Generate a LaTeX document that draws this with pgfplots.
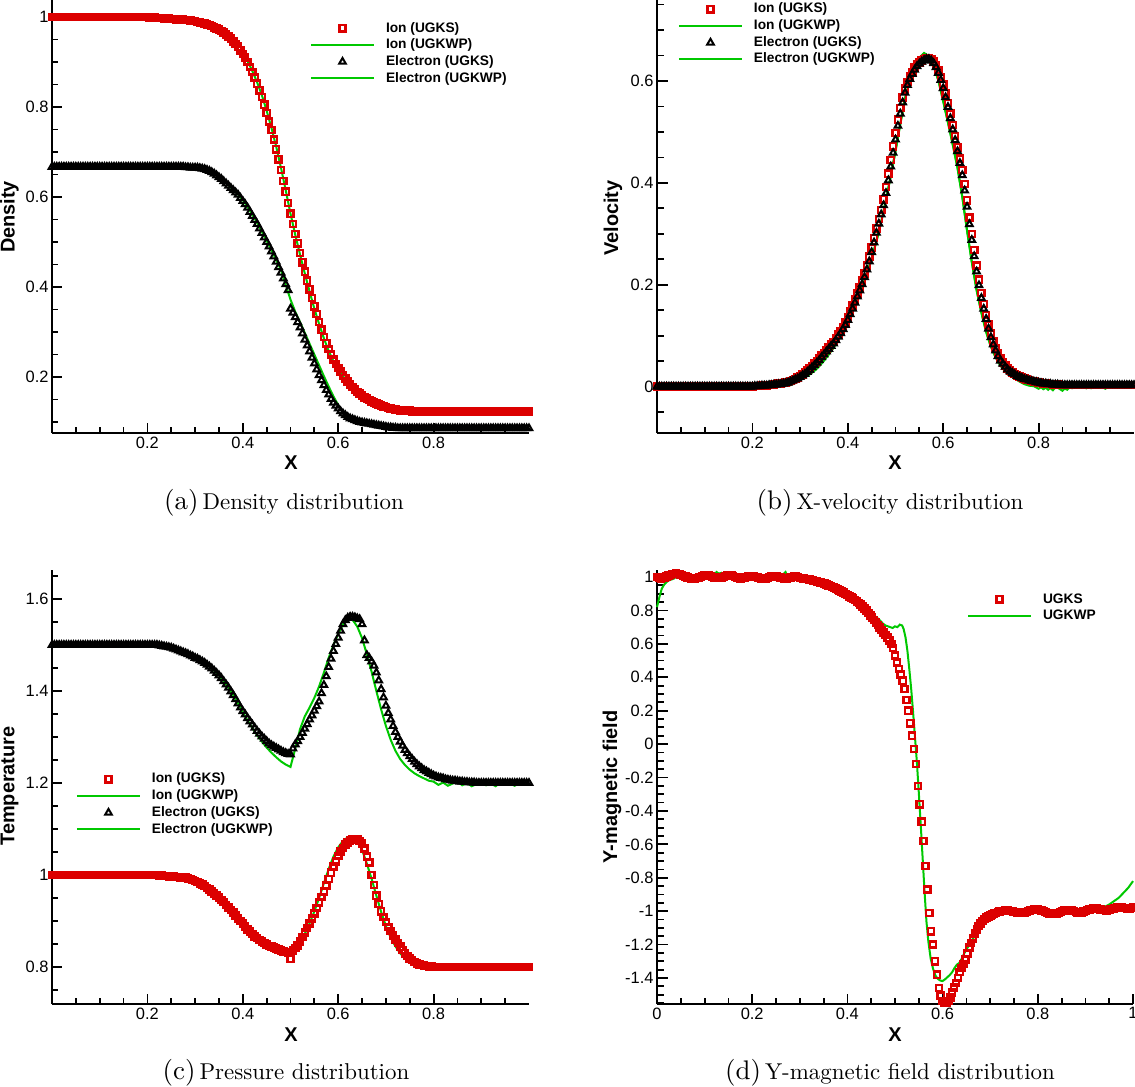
\documentclass[border=0pt]{standalone}
\usepackage{pgfplots}
\pgfplotsset{compat=1.18}
\usepackage{fontspec}
\newfontfamily\hv{Liberation Sans}
\newfontfamily\cmten{lmroman10-regular.otf}
\definecolor{ured}{RGB}{220,0,0}
\definecolor{ugreen}{RGB}{0,200,0}
\pgfplotsset{
  table/g5/.style={header=false, row sep=\\, x expr=\coordindex*0.005, y index=0},
  table/g10/.style={header=false, row sep=\\, x expr=\coordindex*0.01, y index=0},
  table/g4/.style={header=false, row sep=\\, x expr=\coordindex*0.004, y index=0},
  tec/.style={
    scale only axis, clip=false,
    axis x line*=bottom, axis y line*=left,
    axis line style={line width=2bp, -},
    tick align=inside,
    major tick length=10.5bp, minor tick length=6.5bp,
    every tick/.append style={line width=1.8bp, black},
    tick label style={font=\hv\fontsize{16.5}{18}\selectfont},
    /pgf/number format/assume math mode=true,
    xmin=0, xmax=1,
    legend cell align=left,
    legend style={draw=none, fill=none, inner sep=0pt, outer sep=0pt, anchor=north west,
      font=\hv\bfseries\fontsize{13.8}{15}\selectfont,
      nodes={inner sep=1.5bp, text height=10.5bp, text depth=3.2bp},
      /tikz/every odd column/.append style={column sep=9.5bp},
      row sep=0pt},
  },
  ionS/.style={only marks, mark=square, mark size=3.1bp, color=ured, mark options={line width=2.4bp},
    legend image code/.code={\path[draw=none,fill=none] (0bp,0bp) -- (63bp,0bp); \draw[##1] plot coordinates {(31.5bp,0bp)};}},
  eleS/.style={only marks, mark=triangle, mark size=3.8bp, color=black, mark options={line width=2bp},
    legend image code/.code={\path[draw=none,fill=none] (0bp,0bp) -- (63bp,0bp); \draw[##1] plot coordinates {(31.5bp,0bp)};}},
  wp/.style={no marks, color=ugreen, line width=2bp,
    legend image code/.code={\draw[##1] (0bp,0bp) -- (63bp,0bp);}},
}
\begin{document}
\begin{tikzpicture}
\path[use as bounding box] (0,0) rectangle (1135bp,-1087bp);

% ---------------- (a) Density ----------------
\begin{axis}[tec, at={(52bp,-433bp)}, anchor=south west, width=477bp, height=433bp,
  ymin=0.0756, ymax=1.0378,
  xtick={0.2,0.4,0.6,0.8}, minor xtick={0.05,0.1,...,0.951},
  ytick={0.2,0.4,0.6,0.8,1}, minor ytick={0.1,0.15,...,1.001},
  legend style={at={(0.5409,0.9538)}}]
\addplot[ionS, forget plot] table[g5]{
1\\1\\1\\1\\1\\1\\1\\1\\1\\1\\
1\\1\\1\\1\\1\\1\\1\\1\\1\\1\\
1\\1\\1\\1\\1\\1\\1\\1\\1\\1\\
1\\1\\1\\1\\1\\1\\1\\1\\1\\1\\
1\\.999\\.999\\.999\\.998\\.998\\.998\\.997\\.997\\.997\\
.996\\.996\\.995\\.995\\.994\\.994\\.993\\.993\\.992\\.991\\
.991\\.989\\.988\\.987\\.985\\.984\\.982\\.980\\.977\\.975\\
.972\\.969\\.965\\.961\\.957\\.952\\.946\\.940\\.934\\.926\\
.918\\.910\\.900\\.889\\.878\\.865\\.852\\.837\\.822\\.805\\
.787\\.768\\.749\\.728\\.706\\.684\\.660\\.636\\.612\\.587\\
.563\\.540\\.518\\.497\\.476\\.455\\.434\\.414\\.395\\.376\\
.357\\.340\\.322\\.305\\.289\\.275\\.262\\.250\\.239\\.229\\
.220\\.212\\.204\\.197\\.190\\.184\\.178\\.172\\.167\\.163\\
.159\\.155\\.152\\.149\\.146\\.143\\.141\\.139\\.137\\.135\\
.133\\.131\\.130\\.129\\.128\\.127\\.126\\.126\\.125\\.125\\
.125\\.124\\.124\\.124\\.124\\.124\\.124\\.124\\.124\\.124\\
.124\\.124\\.124\\.124\\.124\\.124\\.124\\.124\\.124\\.124\\
.124\\.124\\.124\\.124\\.124\\.124\\.124\\.124\\.124\\.124\\
.124\\.124\\.124\\.124\\.124\\.124\\.124\\.124\\.124\\.124\\
.124\\.124\\.124\\.124\\.124\\.124\\.124\\.124\\.124\\.124\\
.124\\
};
\addplot[eleS, forget plot] table[g5]{
.667\\.667\\.667\\.667\\.667\\.667\\.667\\.667\\.667\\.667\\
.667\\.667\\.667\\.667\\.667\\.667\\.667\\.667\\.667\\.667\\
.667\\.667\\.667\\.667\\.667\\.667\\.667\\.667\\.667\\.667\\
.667\\.667\\.667\\.667\\.667\\.667\\.667\\.667\\.667\\.667\\
.667\\.667\\.667\\.667\\.667\\.667\\.667\\.667\\.667\\.667\\
.667\\.667\\.667\\.667\\.667\\.667\\.666\\.666\\.665\\.665\\
.665\\.665\\.664\\.663\\.662\\.660\\.658\\.655\\.652\\.648\\
.644\\.640\\.635\\.630\\.625\\.620\\.615\\.610\\.605\\.598\\
.591\\.584\\.576\\.567\\.558\\.549\\.540\\.530\\.520\\.510\\
.500\\.490\\.479\\.468\\.456\\.444\\.432\\.419\\.406\\.393\\
.352\\.343\\.333\\.322\\.310\\.297\\.283\\.270\\.257\\.243\\
.230\\.217\\.204\\.193\\.182\\.171\\.161\\.151\\.143\\.136\\
.130\\.124\\.119\\.115\\.111\\.108\\.106\\.104\\.102\\.100\\
.099\\.098\\.097\\.096\\.095\\.094\\.093\\.092\\.091\\.090\\
.089\\.088\\.088\\.087\\.087\\.086\\.086\\.086\\.086\\.086\\
.086\\.086\\.086\\.086\\.086\\.086\\.086\\.086\\.086\\.086\\
.086\\.086\\.086\\.086\\.086\\.086\\.086\\.086\\.086\\.086\\
.086\\.086\\.086\\.086\\.086\\.086\\.086\\.086\\.086\\.086\\
.086\\.086\\.086\\.086\\.086\\.086\\.086\\.086\\.086\\.086\\
.086\\.086\\.086\\.086\\.086\\.086\\.086\\.086\\.086\\.086\\
.086\\
};
\addplot[wp, forget plot] table[g10]{
1.002\\.998\\1.003\\.997\\1.001\\1.004\\.998\\1.002\\.996\\1.003\\
.999\\1.003\\.997\\1.002\\.998\\1.004\\.999\\.997\\1.003\\1.000\\
.998\\1.002\\.997\\1.001\\.998\\.997\\.995\\.996\\.993\\.993\\
.991\\.988\\.985\\.981\\.976\\.970\\.962\\.953\\.941\\.928\\
.920\\.902\\.880\\.855\\.826\\.792\\.754\\.712\\.665\\.615\\
.563\\.516\\.472\\.430\\.390\\.352\\.318\\.286\\.258\\.235\\
.218\\.202\\.188\\.176\\.165\\.157\\.150\\.145\\.140\\.136\\
.133\\.130\\.128\\.127\\.126\\.125\\.125\\.124\\.125\\.124\\
.125\\.124\\.124\\.125\\.124\\.125\\.124\\.124\\.125\\.124\\
.124\\.125\\.124\\.124\\.125\\.124\\.124\\.125\\.124\\.124\\.125\\
};
\addplot[wp, forget plot] table[g10]{
.668\\.665\\.669\\.666\\.667\\.670\\.665\\.668\\.666\\.669\\
.667\\.664\\.668\\.666\\.669\\.667\\.665\\.668\\.667\\.666\\
.668\\.665\\.667\\.669\\.666\\.667\\.665\\.667\\.666\\.665\\
.665\\.663\\.661\\.657\\.652\\.645\\.636\\.626\\.616\\.606\\
.593\\.578\\.561\\.543\\.523\\.503\\.482\\.460\\.438\\.405\\
.372\\.345\\.322\\.298\\.274\\.250\\.226\\.202\\.179\\.157\\
.138\\.122\\.111\\.104\\.100\\.097\\.095\\.093\\.091\\.089\\
.088\\.087\\.086\\.086\\.085\\.086\\.085\\.086\\.085\\.085\\
.086\\.085\\.085\\.086\\.085\\.085\\.086\\.085\\.085\\.086\\
.085\\.085\\.086\\.085\\.085\\.086\\.085\\.085\\.086\\.085\\.085\\
};
\addlegendimage{ionS}\addlegendentry{Ion (UGKS)}
\addlegendimage{wp}\addlegendentry{Ion (UGKWP)}
\addlegendimage{eleS}\addlegendentry{Electron (UGKS)}
\addlegendimage{wp}\addlegendentry{Electron (UGKWP)}
\end{axis}

% ---------------- (b) Velocity ----------------
\begin{axis}[tec, at={(657bp,-433bp)}, anchor=south west, width=477bp, height=433bp,
  ymin=-0.0909, ymax=0.759,
  xtick={0.2,0.4,0.6,0.8}, minor xtick={0.05,0.1,...,0.951},
  ytick={0,0.2,0.4,0.6}, minor ytick={-0.05,0,...,0.751},
  legend style={at={(0.044,0.998)}}]
\addplot[ionS, forget plot] table[g5]{
0\\0\\0\\0\\0\\0\\0\\0\\0\\0\\
0\\0\\0\\0\\0\\0\\0\\0\\0\\0\\
0\\0\\0\\0\\0\\0\\0\\0\\0\\0\\
0\\0\\0\\0\\0\\0\\0\\0\\0\\0\\
0\\.001\\.001\\.001\\.002\\.002\\.002\\.003\\.003\\.004\\
.005\\.006\\.006\\.007\\.008\\.009\\.011\\.013\\.015\\.018\\
.021\\.024\\.028\\.032\\.036\\.041\\.045\\.050\\.055\\.061\\
.066\\.072\\.077\\.083\\.088\\.095\\.102\\.109\\.117\\.126\\
.137\\.148\\.159\\.171\\.183\\.195\\.208\\.222\\.238\\.255\\
.273\\.292\\.311\\.329\\.347\\.368\\.392\\.418\\.445\\.472\\
.498\\.524\\.547\\.568\\.585\\.598\\.609\\.618\\.626\\.632\\
.636\\.640\\.643\\.645\\.645\\.643\\.638\\.631\\.621\\.608\\
.593\\.576\\.557\\.536\\.514\\.492\\.470\\.448\\.425\\.398\\
.366\\.332\\.300\\.268\\.238\\.210\\.184\\.162\\.141\\.122\\
.104\\.089\\.076\\.065\\.055\\.048\\.042\\.036\\.032\\.028\\
.025\\.022\\.020\\.018\\.016\\.014\\.013\\.011\\.010\\.009\\
.008\\.007\\.006\\.006\\.005\\.005\\.004\\.004\\.004\\.003\\
.003\\.003\\.003\\.003\\.003\\.003\\.003\\.003\\.003\\.003\\
.003\\.003\\.003\\.003\\.003\\.003\\.003\\.003\\.003\\.003\\
.003\\.003\\.003\\.003\\.003\\.003\\.003\\.003\\.003\\.003\\
.003\\
};
\addplot[eleS, forget plot] table[g5]{
0\\0\\0\\0\\0\\0\\0\\0\\0\\0\\
0\\0\\0\\0\\0\\0\\0\\0\\0\\0\\
0\\0\\0\\0\\0\\0\\0\\0\\0\\0\\
0\\0\\0\\0\\0\\0\\0\\0\\0\\0\\
0\\.001\\.001\\.001\\.002\\.002\\.002\\.003\\.003\\.004\\
.004\\.005\\.005\\.006\\.007\\.008\\.010\\.012\\.014\\.016\\
.019\\.022\\.025\\.029\\.033\\.038\\.042\\.047\\.052\\.058\\
.063\\.069\\.074\\.080\\.085\\.091\\.098\\.105\\.113\\.121\\
.131\\.142\\.153\\.165\\.177\\.189\\.201\\.215\\.230\\.246\\
.264\\.283\\.302\\.320\\.338\\.356\\.380\\.405\\.432\\.459\\
.485\\.512\\.536\\.558\\.577\\.592\\.604\\.614\\.622\\.629\\
.634\\.638\\.641\\.643\\.643\\.640\\.635\\.627\\.616\\.602\\
.586\\.568\\.549\\.527\\.505\\.484\\.462\\.439\\.415\\.385\\
.353\\.319\\.288\\.256\\.226\\.199\\.174\\.153\\.133\\.114\\
.097\\.083\\.071\\.060\\.051\\.045\\.039\\.034\\.030\\.027\\
.024\\.021\\.019\\.017\\.015\\.014\\.012\\.011\\.010\\.009\\
.008\\.007\\.006\\.006\\.005\\.005\\.004\\.004\\.004\\.003\\
.003\\.003\\.003\\.003\\.003\\.003\\.003\\.003\\.003\\.003\\
.003\\.003\\.003\\.003\\.003\\.003\\.003\\.003\\.003\\.003\\
.003\\.003\\.003\\.003\\.003\\.003\\.003\\.003\\.003\\.003\\
.003\\
};
\addplot[wp, forget plot] table[g10]{
-.001\\.003\\-.002\\.002\\-.003\\.001\\.003\\-.002\\.001\\-.001\\
.003\\-.002\\.001\\-.003\\.002\\.000\\-.002\\.003\\.001\\-.002\\
.001\\.003\\-.002\\.002\\.000\\.003\\.002\\.005\\.006\\.009\\
.014\\.019\\.025\\.032\\.041\\.052\\.064\\.077\\.092\\.108\\
.126\\.147\\.170\\.195\\.222\\.252\\.286\\.324\\.367\\.414\\
.463\\.516\\.566\\.603\\.629\\.646\\.655\\.649\\.631\\.601\\
.561\\.519\\.476\\.430\\.373\\.307\\.245\\.190\\.146\\.108\\
.079\\.058\\.042\\.031\\.022\\.016\\.011\\.006\\.003\\.002\\
.003\\-.005\\.001\\-.007\\.004\\-.002\\-.006\\.003\\-.001\\.005\\
-.003\\.004\\-.002\\.001\\-.004\\.003\\-.001\\.005\\.000\\.003\\.001\\
};
\addplot[wp, forget plot] table[g10]{
.002\\-.002\\.003\\-.001\\.001\\-.003\\.002\\.000\\-.002\\.003\\
-.001\\.002\\-.003\\.001\\.003\\-.002\\.000\\.002\\-.003\\.001\\
.002\\-.001\\.001\\.003\\-.002\\.002\\.001\\.004\\.003\\.008\\
.013\\.018\\.024\\.031\\.040\\.051\\.063\\.076\\.091\\.107\\
.125\\.146\\.169\\.194\\.221\\.251\\.285\\.323\\.366\\.413\\
.462\\.515\\.565\\.602\\.628\\.645\\.654\\.648\\.630\\.600\\
.560\\.518\\.475\\.429\\.372\\.306\\.244\\.189\\.145\\.107\\
.078\\.057\\.041\\.030\\.022\\.016\\.010\\.005\\.002\\.001\\
-.004\\.002\\-.006\\.003\\-.002\\-.008\\.001\\-.003\\.004\\-.002\\
.002\\-.003\\.003\\-.001\\.002\\-.002\\.004\\.001\\.006\\.002\\.004\\
};
\addlegendimage{ionS}\addlegendentry{Ion (UGKS)}
\addlegendimage{wp}\addlegendentry{Ion (UGKWP)}
\addlegendimage{eleS}\addlegendentry{Electron (UGKS)}
\addlegendimage{wp}\addlegendentry{Electron (UGKWP)}
\end{axis}

% ---------------- (c) Temperature ----------------
\begin{axis}[tec, at={(52bp,-1004bp)}, anchor=south west, width=477bp, height=434bp,
  ymin=0.7196, ymax=1.663,
  xtick={0.2,0.4,0.6,0.8}, minor xtick={0.05,0.1,...,0.951},
  ytick={0.8,1,1.2,1.4,1.6}, minor ytick={0.75,0.8,...,1.651},
  legend style={at={(0.0503,0.537)}}]
\addplot[ionS, forget plot] table[g5]{
1\\1\\1\\1\\1\\1\\1\\1\\1\\1\\
1\\1\\1\\1\\1\\1\\1\\1\\1\\1\\
1\\1\\1\\1\\1\\1\\1\\1\\1\\1\\
1\\1\\1\\1\\1\\1\\1\\1\\1\\1\\
1\\1\\1\\1\\1\\.999\\.999\\.998\\.998\\.997\\
.997\\.997\\.996\\.996\\.995\\.995\\.994\\.993\\.991\\.989\\
.987\\.985\\.982\\.979\\.976\\.972\\.968\\.964\\.960\\.956\\
.951\\.946\\.941\\.935\\.930\\.924\\.918\\.912\\.906\\.900\\
.894\\.888\\.882\\.877\\.872\\.867\\.863\\.859\\.855\\.852\\
.849\\.846\\.844\\.842\\.840\\.838\\.836\\.834\\.833\\.832\\
.818\\.836\\.841\\.847\\.855\\.865\\.875\\.885\\.895\\.905\\
.916\\.928\\.940\\.952\\.964\\.977\\.991\\1.005\\1.019\\1.030\\
1.041\\1.051\\1.059\\1.066\\1.071\\1.075\\1.077\\1.078\\1.077\\1.074\\
1.069\\1.058\\1.040\\1.027\\1.000\\.978\\.955\\.937\\.921\\.909\\
.898\\.887\\.878\\.869\\.860\\.852\\.844\\.837\\.830\\.824\\
.819\\.815\\.811\\.808\\.806\\.804\\.803\\.802\\.801\\.801\\
.8\\.8\\.8\\.8\\.8\\.8\\.8\\.8\\.8\\.8\\
.8\\.8\\.8\\.8\\.8\\.8\\.8\\.8\\.8\\.8\\
.8\\.8\\.8\\.8\\.8\\.8\\.8\\.8\\.8\\.8\\
.8\\.8\\.8\\.8\\.8\\.8\\.8\\.8\\.8\\.8\\
.8\\
};
\addplot[eleS, forget plot] table[g5]{
1.5\\1.5\\1.5\\1.5\\1.5\\1.5\\1.5\\1.5\\1.5\\1.5\\
1.5\\1.5\\1.5\\1.5\\1.5\\1.5\\1.5\\1.5\\1.5\\1.5\\
1.5\\1.5\\1.5\\1.5\\1.5\\1.5\\1.5\\1.5\\1.5\\1.5\\
1.5\\1.5\\1.5\\1.5\\1.5\\1.5\\1.5\\1.5\\1.5\\1.5\\
1.5\\1.5\\1.5\\1.5\\1.5\\1.499\\1.498\\1.497\\1.496\\1.495\\
1.494\\1.492\\1.490\\1.488\\1.486\\1.484\\1.482\\1.480\\1.477\\1.475\\
1.472\\1.470\\1.467\\1.464\\1.461\\1.457\\1.453\\1.449\\1.444\\1.439\\
1.434\\1.428\\1.421\\1.414\\1.407\\1.399\\1.391\\1.382\\1.373\\1.364\\
1.356\\1.349\\1.341\\1.334\\1.327\\1.320\\1.313\\1.307\\1.301\\1.296\\
1.291\\1.286\\1.282\\1.279\\1.276\\1.273\\1.270\\1.267\\1.265\\1.263\\
1.262\\1.275\\1.284\\1.291\\1.300\\1.309\\1.318\\1.328\\1.338\\1.347\\
1.357\\1.367\\1.377\\1.395\\1.413\\1.432\\1.452\\1.470\\1.487\\1.502\\
1.516\\1.531\\1.545\\1.554\\1.559\\1.561\\1.561\\1.560\\1.558\\1.556\\
1.545\\1.510\\1.478\\1.472\\1.464\\1.455\\1.440\\1.423\\1.404\\1.386\\
1.368\\1.352\\1.338\\1.324\\1.311\\1.300\\1.290\\1.281\\1.272\\1.265\\
1.258\\1.252\\1.246\\1.241\\1.236\\1.232\\1.228\\1.225\\1.222\\1.219\\
1.216\\1.214\\1.212\\1.211\\1.210\\1.208\\1.207\\1.206\\1.205\\1.205\\
1.204\\1.203\\1.203\\1.202\\1.202\\1.201\\1.201\\1.201\\1.200\\1.200\\
1.2\\1.2\\1.2\\1.2\\1.2\\1.2\\1.2\\1.2\\1.2\\1.2\\
1.2\\1.2\\1.2\\1.2\\1.2\\1.2\\1.2\\1.2\\1.2\\1.2\\
1.2\\
};
\addplot[wp, forget plot] table[g10]{
1.002\\.997\\1.003\\.999\\1.004\\.998\\1.001\\.996\\1.003\\1.000\\
.998\\1.004\\.999\\1.002\\.997\\1.003\\1.000\\.998\\1.004\\.999\\
1.001\\.998\\1.002\\.999\\.997\\.996\\.994\\.992\\.991\\.988\\
.988\\.984\\.979\\.972\\.964\\.955\\.945\\.934\\.922\\.910\\
.898\\.886\\.875\\.865\\.856\\.849\\.843\\.838\\.834\\.830\\
.826\\.832\\.850\\.872\\.895\\.921\\.950\\.982\\1.013\\1.040\\
1.060\\1.074\\1.082\\1.083\\1.075\\1.055\\1.025\\.992\\.955\\.920\\
.889\\.864\\.845\\.830\\.818\\.810\\.805\\.802\\.800\\.797\\
.803\\.796\\.801\\.798\\.804\\.795\\.800\\.797\\.803\\.798\\
.801\\.796\\.802\\.795\\.800\\.804\\.797\\.801\\.794\\.800\\.798\\
};
\addplot[wp, forget plot] table[g10]{
1.502\\1.497\\1.503\\1.499\\1.496\\1.504\\1.500\\1.497\\1.502\\1.499\\
1.503\\1.498\\1.501\\1.496\\1.502\\1.499\\1.504\\1.497\\1.500\\1.503\\
1.499\\1.502\\1.497\\1.499\\1.496\\1.494\\1.492\\1.488\\1.485\\1.480\\
1.474\\1.467\\1.461\\1.453\\1.444\\1.434\\1.421\\1.407\\1.391\\1.373\\
1.354\\1.336\\1.320\\1.304\\1.290\\1.277\\1.266\\1.256\\1.247\\1.240\\
1.235\\1.275\\1.317\\1.345\\1.364\\1.385\\1.410\\1.440\\1.472\\1.500\\
1.524\\1.545\\1.556\\1.555\\1.540\\1.515\\1.480\\1.442\\1.400\\1.360\\
1.324\\1.294\\1.270\\1.252\\1.239\\1.229\\1.221\\1.215\\1.210\\1.205\\
1.203\\1.196\\1.201\\1.194\\1.199\\1.204\\1.195\\1.200\\1.193\\1.198\\
1.202\\1.195\\1.199\\1.193\\1.201\\1.196\\1.199\\1.194\\1.200\\1.196\\1.199\\
};
\addlegendimage{ionS}\addlegendentry{Ion (UGKS)}
\addlegendimage{wp}\addlegendentry{Ion (UGKWP)}
\addlegendimage{eleS}\addlegendentry{Electron (UGKS)}
\addlegendimage{wp}\addlegendentry{Electron (UGKWP)}
\end{axis}

% ---------------- (d) Y-magnetic field ----------------
\begin{axis}[tec, at={(657bp,-1004bp)}, anchor=south west, width=476bp, height=434bp,
  ymin=-1.5556, ymax=1.042,
  xtick={0,0.2,0.4,0.6,0.8,1}, minor xtick={0.05,0.1,...,0.951},
  ytick={-1.4,-1.2,-1,-0.8,-0.6,-0.4,-0.2,0,0.2,0.4,0.6,0.8,1},
  minor ytick={-1.55,-1.5,...,1.001},
  legend style={at={(0.6513,0.9516)}}]
\addplot[ionS, forget plot] table[g4]{
1.000\\.995\\.992\\.993\\.997\\1.002\\1.008\\1.013\\1.017\\1.019\\
1.020\\1.019\\1.016\\1.012\\1.007\\1.002\\.997\\.993\\.990\\.989\\
.990\\.993\\.997\\1.001\\1.005\\1.008\\1.009\\1.008\\1.005\\1.001\\
.997\\.994\\.993\\.994\\.997\\1.001\\1.005\\1.008\\1.009\\1.008\\
1.005\\1.001\\.997\\.994\\.992\\.993\\.996\\1.000\\1.003\\1.005\\
1.006\\1.004\\1.001\\.997\\.993\\.990\\.989\\.991\\.995\\.999\\
1.003\\1.006\\1.007\\1.005\\1.001\\.997\\.993\\.991\\.991\\.993\\
.997\\1.000\\1.002\\1.002\\1.000\\.995\\.993\\.991\\.989\\.987\\
.985\\.983\\.980\\.977\\.974\\.971\\.968\\.964\\.960\\.956\\
.951\\.946\\.941\\.936\\.930\\.924\\.918\\.912\\.906\\.899\\
.892\\.885\\.878\\.870\\.862\\.853\\.844\\.834\\.823\\.811\\
.798\\.785\\.771\\.757\\.742\\.727\\.712\\.697\\.682\\.667\\
.652\\.637\\.620\\.600\\.575\\.530\\.488\\.450\\.415\\.380\\
.330\\.265\\.200\\.125\\.050\\-.030\\-.120\\-.250\\-.360\\-.465\\
-.580\\-.730\\-.870\\-1.010\\-1.120\\-1.200\\-1.300\\-1.380\\-1.460\\-1.506\\
-1.537\\-1.548\\-1.550\\-1.538\\-1.515\\-1.485\\-1.455\\-1.430\\-1.400\\-1.365\\
-1.340\\-1.315\\-1.288\\-1.255\\-1.218\\-1.190\\-1.163\\-1.135\\-1.108\\-1.088\\
-1.072\\-1.058\\-1.047\\-1.038\\-1.031\\-1.025\\-1.019\\-1.014\\-1.010\\-1.006\\
-1.003\\-1.000\\-.998\\-.997\\-.997\\-.998\\-1.000\\-1.003\\-1.006\\-1.009\\
-1.011\\-1.012\\-1.011\\-1.008\\-1.004\\-1.000\\-.996\\-.993\\-.991\\-.990\\
-.990\\-.992\\-.996\\-1.000\\-1.005\\-1.010\\-1.014\\-1.017\\-1.018\\-1.017\\
-1.014\\-1.010\\-1.005\\-1.000\\-.996\\-.993\\-.992\\-.993\\-.996\\-1.000\\
-1.004\\-1.007\\-1.008\\-1.007\\-1.003\\-.998\\-.993\\-.989\\-.986\\-.984\\
-.983\\-.984\\-.986\\-.989\\-.992\\-.994\\-.995\\-.994\\-.991\\-.987\\
-.983\\-.980\\-.978\\-.977\\-.978\\-.980\\-.982\\-.983\\-.983\\-.981\\-.979\\
};
\addplot[wp, forget plot] coordinates {
(0,.82) (.005,.88) (.01,.93) (.015,.955) (.02,.97) (.025,.98) (.03,.985) (.035,.99) (.04,1.0) (.045,.995)
(.05,1.005) (.055,.998) (.06,1.01) (.065,1.0) (.07,.99) (.075,.995) (.08,.985) (.085,.995) (.09,.99) (.095,1.0)
(.10,.995) (.105,1.005) (.11,.995) (.115,1.01) (.12,1.005) (.125,1.03) (.13,1.02) (.135,1.025) (.14,1.005) (.145,1.02)
(.15,1.01) (.155,1.0) (.16,1.015) (.165,.995) (.17,1.005) (.175,.995) (.18,1.01) (.185,1.0) (.19,.99) (.195,1.005)
(.20,.995) (.205,1.0) (.21,.99) (.215,1.005) (.22,.995) (.225,1.0) (.23,.99) (.235,1.01) (.24,.995) (.245,1.005)
(.25,1.0) (.255,1.01) (.26,1.0) (.265,1.015) (.27,1.03) (.275,1.0) (.28,1.01) (.285,.995) (.29,1.005) (.295,.99)
(.30,1.0) (.305,.985) (.31,.995) (.315,.98) (.32,.99) (.325,.975) (.33,.985) (.335,.97) (.34,.975) (.345,.96)
(.35,.965) (.355,.95) (.36,.955) (.365,.93) (.37,.935) (.375,.91) (.38,.92) (.385,.905) (.39,.91) (.395,.895)
(.40,.9) (.405,.885) (.41,.885) (.415,.87) (.42,.865) (.425,.85) (.43,.84) (.435,.83) (.44,.815) (.445,.805)
(.45,.79) (.455,.775) (.46,.76) (.465,.75) (.47,.735) (.475,.72) (.48,.71) (.485,.705) (.49,.7) (.495,.695)
(.50,.705) (.505,.7) (.51,.715) (.515,.71) (.518,.69) (.522,.64) (.526,.56) (.53,.45) (.534,.33) (.538,.19)
(.542,.04) (.546,-.11) (.55,-.29) (.554,-.48) (.558,-.68) (.562,-.88) (.566,-1.06) (.57,-1.18) (.575,-1.285) (.58,-1.345)
(.585,-1.386) (.59,-1.405) (.595,-1.415) (.60,-1.418) (.605,-1.408) (.61,-1.395) (.615,-1.382) (.62,-1.365) (.625,-1.34) (.63,-1.32)
(.635,-1.31) (.64,-1.285) (.645,-1.255) (.65,-1.23) (.655,-1.205) (.66,-1.18) (.665,-1.16) (.67,-1.135) (.675,-1.115) (.68,-1.095)
(.685,-1.08) (.69,-1.07) (.695,-1.062) (.70,-1.05) (.71,-1.035) (.72,-1.02) (.73,-1.01) (.74,-1.005) (.75,-1.0) (.76,-1.005)
(.77,-.995) (.78,-1.0) (.79,-.99) (.80,-.985) (.81,-.99) (.82,-1.005) (.83,-1.015) (.84,-1.02) (.85,-1.02) (.86,-1.01)
(.87,-1.005) (.88,-1.0) (.89,-.995) (.90,-.99) (.91,-.985) (.92,-.98) (.93,-.985) (.94,-.975) (.95,-.96) (.96,-.94)
(.97,-.92) (.98,-.89) (.99,-.86) (1.0,-.82)
};
\addlegendimage{ionS}\addlegendentry{UGKS}
\addlegendimage{wp}\addlegendentry{UGKWP}
\end{axis}

% ---------------- labels ----------------
\tikzset{axlab/.style={font=\hv\bfseries\fontsize{20}{22}\selectfont, inner sep=0pt}}
\node[axlab, rotate=90] at (9.5bp,-217bp) {Density};
\node[axlab] at (291bp,-463bp) {X};
\node[axlab, rotate=90] at (613bp,-218bp) {Velocity};
\node[axlab] at (895bp,-463bp) {X};
\node[axlab, rotate=90] at (9.5bp,-786bp) {Temperature};
\node[axlab] at (291bp,-1035bp) {X};
\node[axlab, rotate=90] at (612bp,-787bp) {Y-magnetic field};
\node[axlab] at (895bp,-1035bp) {X};

\tikzset{captext/.style={anchor=base, inner sep=0pt, font=\cmten}}
\node[captext] at (284bp,-509bp) {\fontsize{27}{30}\selectfont(a)\hspace{4bp}\fontsize{23}{26}\selectfont Density distribution};
\node[captext] at (890bp,-509bp) {\fontsize{27}{30}\selectfont(b)\hspace{4bp}\fontsize{23}{26}\selectfont X-velocity distribution};
\node[captext] at (286bp,-1079bp) {\fontsize{27}{30}\selectfont(c)\hspace{4bp}\fontsize{23}{26}\selectfont Pressure distribution};
\node[captext] at (890bp,-1079bp) {\fontsize{27}{30}\selectfont(d)\hspace{4bp}\fontsize{23}{26}\selectfont Y-magnetic field distribution};
\end{tikzpicture}
\end{document}
